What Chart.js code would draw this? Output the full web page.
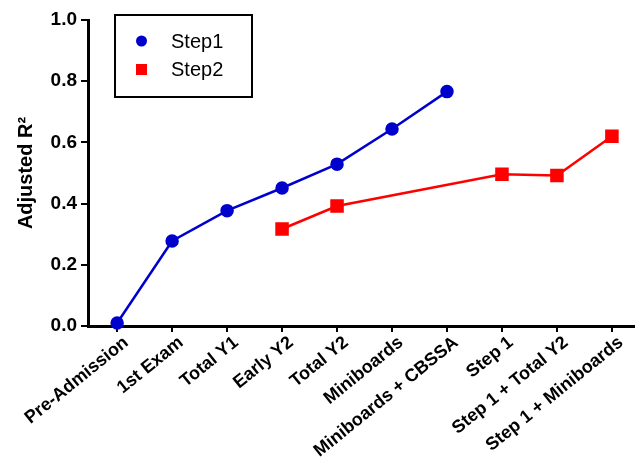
<!DOCTYPE html>
<html>
<head>
<meta charset="utf-8">
<script src="https://cdn.jsdelivr.net/npm/chart.js@4"></script>
<style>
html,body{margin:0;padding:0;background:#fff;}
#wrap{width:635px;height:459px;}
</style>
</head>
<body>
<div id="wrap"><canvas id="c" width="635" height="459"></canvas></div>
<script>
const categories = ["Pre-Admission","1st Exam","Total Y1","Early Y2","Total Y2","Miniboards","Miniboards + CBSSA","Step 1","Step 1 + Total Y2","Step 1 + Miniboards"];
const step1 = [0.010, 0.278, 0.377, 0.451, 0.529, 0.644, 0.766, null, null, null];
const step2 = [null, null, null, 0.317, 0.392, null, null, 0.496, 0.492, 0.620];
const yTicks = [0.0, 0.2, 0.4, 0.6, 0.8, 1.0];
const seriesNames = ["Step1", "Step2"];
const yTitle = "Adjusted R\u00B2";

const BLUE = "rgb(0,0,204)";
const RED = "rgb(255,0,0)";
const FONT = '"Liberation Sans", Arial, sans-serif';

const toPts = arr => arr.map((v, i) => v === null ? null : {x: i, y: v}).filter(p => p);

const legendPlugin = {
  id: 'boxLegend',
  afterDraw(chart) {
    const ctx = chart.ctx;
    ctx.save();
    const bx = 115, by = 15, bw = 137, bh = 82;
    ctx.lineWidth = 2;
    ctx.strokeStyle = '#000';
    ctx.fillStyle = '#fff';
    ctx.fillRect(bx, by, bw, bh);
    ctx.strokeRect(bx, by, bw, bh);
    ctx.font = '20px ' + FONT;
    ctx.textBaseline = 'middle';
    ctx.textAlign = 'left';
    chart.data.datasets.forEach((ds, i) => {
      const cy = 41 + i * 28.5;
      const cx = 141.5;
      ctx.fillStyle = ds.pointBackgroundColor;
      if (ds.pointStyle === 'circle') {
        ctx.beginPath();
        ctx.arc(cx, cy, 5.5, 0, Math.PI * 2);
        ctx.fill();
      } else {
        ctx.fillRect(cx - 5.5, cy - 5.5, 11, 11);
      }
      ctx.fillStyle = '#000';
      ctx.fillText(ds.label, 171, cy + 1);
    });
    ctx.restore();
  }
};

new Chart(document.getElementById('c'), {
  type: 'line',
  data: {
    datasets: [
      {
        label: seriesNames[0],
        data: toPts(step1),
        borderColor: BLUE,
        backgroundColor: BLUE,
        pointBackgroundColor: BLUE,
        pointBorderColor: BLUE,
        pointStyle: 'circle',
        pointRadius: 5.5,
        borderWidth: 2.5,
        tension: 0,
        clip: false
      },
      {
        label: seriesNames[1],
        data: toPts(step2),
        borderColor: RED,
        backgroundColor: RED,
        pointBackgroundColor: RED,
        pointBorderColor: RED,
        pointStyle: 'rect',
        pointRadius: 7.8,
        borderWidth: 2.5,
        tension: 0,
        clip: false
      }
    ]
  },
  options: {
    responsive: false,
    animation: false,
    layout: {autoPadding: false, padding: {top: 20, right: 0, left: 0, bottom: 0}},
    plugins: {legend: {display: false}, tooltip: {enabled: false}},
    scales: {
      x: {
        type: 'linear',
        min: -0.53,
        max: 9.42,
        afterBuildTicks: s => { s.ticks = categories.map((_, i) => ({value: i})); },
        afterFit: s => { s.height = 133; s.paddingLeft = 0; s.paddingRight = 0; },
        border: {color: '#000', width: 3},
        grid: {drawOnChartArea: false, drawTicks: true, tickLength: 6, color: '#000', lineWidth: 2},
        ticks: {
          autoSkip: false,
          minRotation: 39,
          maxRotation: 39,
          padding: 0,
          labelOffset: 9,
          color: '#000',
          font: {family: FONT, size: 18, weight: 'bold'},
          callback: v => categories[v] ?? ''
        }
      },
      y: {
        type: 'linear',
        min: 0,
        max: 1,
        afterBuildTicks: s => { s.ticks = yTicks.map(v => ({value: v})); },
        afterFit: s => { s.width = 88; s.paddingTop = 0; s.paddingBottom = 0; },
        border: {color: '#000', width: 3},
        grid: {drawOnChartArea: false, drawTicks: true, tickLength: 7, color: '#000', lineWidth: 2},
        title: {
          display: true,
          text: yTitle,
          color: '#000',
          padding: {top: 14, bottom: 0},
          font: {family: FONT, size: 20, weight: 'bold'}
        },
        ticks: {
          color: '#000',
          padding: 4,
          font: {family: FONT, size: 19, weight: 'bold'},
          callback: v => v.toFixed(1)
        }
      }
    }
  },
  plugins: [legendPlugin]
});
</script>
</body>
</html>
